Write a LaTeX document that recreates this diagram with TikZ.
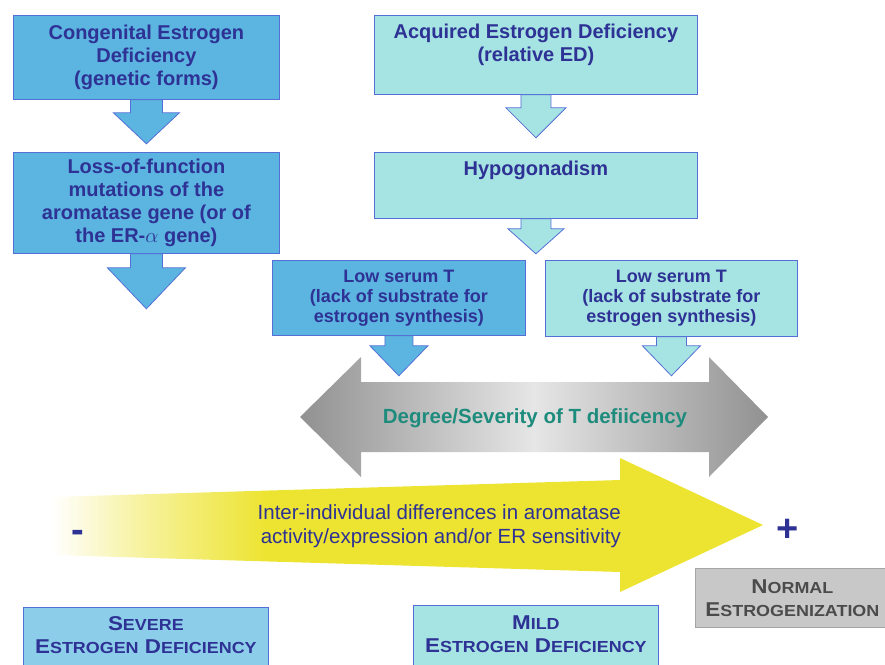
\documentclass[tikz,border=0pt]{standalone}
\usepackage{fontspec}
\setmainfont{Liberation Sans}
\newfontfamily\widesans[FakeStretch=1.12]{Liberation Sans}
\usetikzlibrary{calc}
\usetikzlibrary{positioning}

\definecolor{boxdark}{RGB}{92,180,224}
\definecolor{boxlight}{RGB}{166,227,227}
\definecolor{boxsevere}{RGB}{140,206,233}
\definecolor{boxborder}{RGB}{84,112,214}
\definecolor{boxgray}{RGB}{200,200,200}
\definecolor{graydraw}{RGB}{165,165,165}
\definecolor{navytext}{RGB}{45,50,148}
\definecolor{tealtext}{RGB}{30,140,125}
\definecolor{darkgraytext}{RGB}{75,75,75}
\definecolor{yellowfill}{RGB}{237,228,50}
\definecolor{graydark}{RGB}{145,145,145}
\definecolor{graylight}{RGB}{230,230,230}

\pgfdeclarehorizontalshading{yellowfade}{100bp}{color(0bp)=(white); color(25bp)=(white); color(31bp)=(yellowfill!45!white); color(40bp)=(yellowfill); color(100bp)=(yellowfill)}
\pgfdeclarehorizontalshading{grayband}{100bp}{color(0bp)=(graydark); color(25bp)=(graydark); color(50bp)=(graylight); color(75bp)=(graydark); color(100bp)=(graydark)}

% big first letter, rest in fake small capitals
\newcommand{\smallcapsword}[2]{#1{\fontsize{16}{16}\selectfont #2}}

% block arrow below a box: style, box, shaft half width, head half width, shaft length, head length
\newcommand{\blockarrow}[6]{%
  \draw[#1] ($(#2.south)+(-#3,0)$) -- ($(#2.south)+(-#3,#5)$) -- ($(#2.south)+(-#4,#5)$)
    -- ($(#2.south)+(0,#5+#6)$) -- ($(#2.south)+(#4,#5)$) -- ($(#2.south)+(#3,#5)$)
    -- ($(#2.south)+(#3,0)$) -- cycle;}

\begin{document}
\begin{tikzpicture}[x=1pt,y=-1pt,
    boxtext/.style={text=navytext, align=center, font=\bfseries\fontsize{20}{23.3}\selectfont},
    darkbox/.style={boxtext, draw=boxborder, fill=boxdark, line width=0.8pt, anchor=north west, inner sep=0pt},
    lightbox/.style={darkbox, fill=boxlight},
    smalltext/.style={font=\bfseries\fontsize{18}{20}\selectfont},
    captext/.style={text=navytext, align=center, inner sep=0pt, font=\widesans\bfseries\fontsize{20}{23}\selectfont},
    darkarrow/.style={draw=boxborder, fill=boxdark, line width=0.8pt, line join=miter},
    lightarrow/.style={darkarrow, fill=boxlight}]

    \useasboundingbox (0,0) rectangle (885,664);
    \clip (0,0) rectangle (885,664);

    %Shape: Rectangle [congenital]
    \node[darkbox, minimum width=266pt, minimum height=84pt] (congenital) at (13,15)
        {Congenital Estrogen\\Deficiency\\(genetic forms)};
    %Shape: Rectangle [loss of function]
    \node[darkbox, minimum width=266pt, minimum height=101pt] (lossfn) at (13,152)
        {Loss-of-function\\mutations of the\\aromatase gene (or of\\the ER-$\alpha$ gene)};
    %Shape: Rectangle [acquired]
    \node[lightbox, minimum width=323pt, minimum height=79pt] (acquired) at (374,15) {};
    \node[boxtext, inner sep=0pt, below=9pt of acquired.north] (acquiredtxt)
        {Acquired Estrogen Deficiency\\(relative ED)};
    %Shape: Rectangle [hypogonadism]
    \node[lightbox, minimum width=323pt, minimum height=66pt] (hypo) at (374,152) {};
    \node[boxtext, inner sep=0pt, below=9pt of hypo.north] (hypotxt) {Hypogonadism};
    %Shape: Rectangle [low serum T]
    \node[darkbox, smalltext, minimum width=253pt, minimum height=75pt] (lowdark) at (272,260)
        {Low serum T\\(lack of substrate for\\estrogen synthesis)};
    \node[lightbox, smalltext, minimum width=252pt, minimum height=76pt] (lowlight) at (545,260)
        {Low serum T\\(lack of substrate for\\estrogen synthesis)};

    %Block arrows
    \blockarrow{darkarrow}{congenital}{16}{33}{13}{31}
    \blockarrow{darkarrow}{lossfn}{16}{39}{14}{41}
    \blockarrow{lightarrow}{acquired}{15}{30}{13}{30}
    \blockarrow{lightarrow}{hypo}{15}{28}{10}{25}
    \blockarrow{darkarrow}{lowdark}{14}{29}{10}{30}
    \blockarrow{lightarrow}{lowlight}{15}{29}{9}{30}

    %Shape: Double Arrow [severity of T]
    \shade[shading=grayband] (300,417) -- (361,357) -- (361,382) -- (709,382) -- (709,357) -- (768,417)
        -- (709,477) -- (709,452) -- (361,452) -- (361,477) -- cycle;
    % Text Node
    \node[text=tealtext, font=\bfseries\fontsize{20.5}{24}\selectfont] (severity) at (535,418)
        {Degree/Severity of T defiicency};

    %Shape: Arrow [aromatase]
    \shade[shading=yellowfade] (52,497) -- (620,480) -- (620,458) -- (763,525) -- (620,592)
        -- (620,572) -- (52,555) -- cycle;
    % Text Node
    \node[text=navytext, align=right, anchor=east, inner sep=0pt,
        font=\fontsize{20.5}{24}\selectfont] (aromatase) at (621,526)
        {Inter-individual differences in aromatase\\activity/expression and/or ER sensitivity};
    \node[text=navytext, font=\bfseries\fontsize{38}{38}\selectfont] (minus) at (78,536) {-};
    \node[text=navytext, font=\bfseries\fontsize{38}{38}\selectfont] (plus) at (788,530) {+};

    %Shape: Rectangle [outcomes]
    \node[darkbox, fill=boxsevere, minimum width=245pt, minimum height=80pt] (severe) at (23,607) {};
    \node[captext, below=9pt of severe.north] (severetxt)
        {\smallcapsword{S}{EVERE}\\\smallcapsword{E}{STROGEN} \smallcapsword{D}{EFICIENCY}};
    \node[lightbox, minimum width=245pt, minimum height=80pt] (mild) at (413,605) {};
    \node[captext, below=11pt of mild.north] (mildtxt)
        {\smallcapsword{M}{ILD}\\\smallcapsword{E}{STROGEN} \smallcapsword{D}{EFICIENCY}};
    \node[captext, draw=graydraw, fill=boxgray, text=darkgraytext, line width=0.8pt, anchor=north west,
        minimum width=194pt, minimum height=59pt] (normal) at (695,568)
        {\smallcapsword{N}{ORMAL}\\\smallcapsword{E}{STROGENIZATION}};

\end{tikzpicture}
\end{document}
